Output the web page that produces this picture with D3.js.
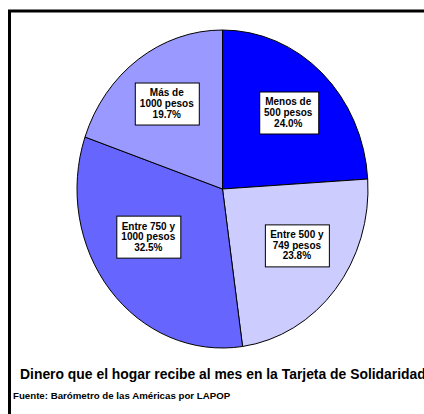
<!DOCTYPE html>
<html>
<head>
<meta charset="utf-8">
<script src="https://cdn.jsdelivr.net/npm/d3@7"></script>
<style>
  html, body { margin: 0; padding: 0; background: #fff; }
  svg { display: block; }
  text { font-family: "Liberation Sans", Arial, sans-serif; font-weight: bold; }
</style>
</head>
<body>
<svg id="chart" width="424" height="414"></svg>
<script>
// Monthly amount households receive on the Tarjeta de Solidaridad
const categories = ["Menos de 500 pesos", "Entre 500 y 749 pesos", "Entre 750 y 1000 pesos", "Más de 1000 pesos"];
const labelLines = [["Menos de", "500 pesos"], ["Entre 500 y", "749 pesos"], ["Entre 750 y", "1000 pesos"], ["Más de", "1000 pesos"]];
const shares = [24.0, 23.8, 32.5, 19.7];
const sliceColors = ["#0000FF", "#CCCCFF", "#6666FF", "#9999FF"];
const titleText = "Dinero que el hogar recibe al mes en la Tarjeta de Solidaridad";
const sourceText = "Fuente: Barómetro de las Américas por LAPOP";

const W = 424, H = 414;
const svg = d3.select("#chart");

// outer frame (runs off the right and bottom edges)
svg.append("rect")
  .attr("x", 9.5).attr("y", 11)
  .attr("width", 440).attr("height", 440)
  .attr("fill", "none").attr("stroke", "#000").attr("stroke-width", 3);

// the pie is drawn slightly taller than wide
const cx = 222.5, cy = 189, rx = 145.5, ry = 159;

const data = categories.map((c, i) => ({ cat: c, value: shares[i], lines: labelLines[i], color: sliceColors[i] }));
const pie = d3.pie().value(d => d.value).sort(null);
const arcs = pie(data);
const arc = d3.arc().innerRadius(0).outerRadius(ry);

const g = svg.append("g")
  .attr("transform", `translate(${cx},${cy}) scale(${rx / ry},1)`);

g.selectAll("path.slice")
  .data(arcs)
  .join("path")
  .attr("class", "slice")
  .attr("d", arc)
  .attr("fill", d => d.data.color)
  .attr("stroke", "#000")
  .attr("stroke-width", 1)
  .attr("vector-effect", "non-scaling-stroke");

// label boxes placed along each slice's mid-angle
const labelArc = d3.arc().innerRadius(ry * 0.66).outerRadius(ry * 0.66);
const nudgeY = [0, -10, -19, 0];
const fs = 10, lh = 10.6;

arcs.forEach((a, i) => {
  const [px, py] = labelArc.centroid(a);
  const x = cx + px * rx / ry;
  const y = cy + py + nudgeY[i];
  const lg = svg.append("g").attr("transform", `translate(${x},${y})`);
  const box = lg.append("rect").attr("fill", "#fff").attr("stroke", "#000").attr("stroke-width", 1);
  const lines = a.data.lines.concat([d3.format(".1f")(a.data.value) + "%"]);
  const t = lg.append("text")
    .attr("text-anchor", "middle")
    .attr("font-size", fs)
    .attr("fill", "#000");
  lines.forEach((ln, k) => {
    t.append("tspan")
      .attr("x", 0)
      .attr("y", (k - (lines.length - 1) / 2) * lh + fs * 0.35)
      .text(ln);
  });
  const bb = t.node().getBBox();
  const padX = 5, padY = 5;
  box.attr("x", Math.round(bb.x - padX) + 0.5)
     .attr("y", Math.round(bb.y - padY) + 0.5)
     .attr("width", Math.round(bb.width + 2 * padX))
     .attr("height", Math.round(bb.height + 2 * padY));
});

svg.append("text")
  .attr("x", 20).attr("y", 378.5)
  .attr("font-size", 13.9)
  .attr("fill", "#000")
  .text(titleText);

svg.append("text")
  .attr("x", 13).attr("y", 399)
  .attr("font-size", 9.7)
  .attr("fill", "#000")
  .text(sourceText);
</script>
</body>
</html>
